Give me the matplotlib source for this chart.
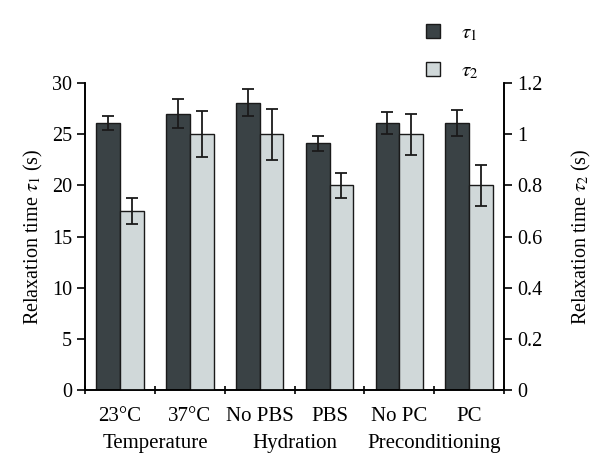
import matplotlib
matplotlib.use("Agg")
import matplotlib.pyplot as plt
import matplotlib.transforms as mtransforms
from matplotlib.patches import Patch
import numpy as np

plt.rcParams['font.family'] = ['Liberation Serif', 'DejaVu Serif']
plt.rcParams['mathtext.fontset'] = 'stix'

categories = ['23°C', '37°C', 'No PBS', 'PBS', 'No PC', 'PC']
groups = ['Temperature', 'Hydration', 'Preconditioning']
tau1 = [26.1, 27.0, 28.1, 24.1, 26.1, 26.1]
tau1_err = [0.7, 1.4, 1.3, 0.7, 1.1, 1.3]
tau2 = [0.70, 1.00, 1.00, 0.80, 1.00, 0.80]
tau2_err = [0.05, 0.09, 0.10, 0.05, 0.08, 0.08]

dark = '#3a4245'
light = '#d0d8d9'

fig = plt.figure(figsize=(6, 4.75), dpi=100)
ax = fig.add_axes([0.142, 0.179, 0.698, 0.646])
ax2 = ax.twinx()

x = np.arange(len(categories))
w = 0.34
ekw = dict(ecolor='#1a1a1a', elinewidth=1.3, capsize=4, capthick=1.3)
ax.bar(x - w / 2, tau1, w, color=dark, edgecolor='#1a1a1a', linewidth=1.0,
       yerr=tau1_err, error_kw=ekw)
ax2.bar(x + w / 2, tau2, w, color=light, edgecolor='#1a1a1a', linewidth=1.0,
        yerr=tau2_err, error_kw=ekw)

ax.set_xlim(-0.5, len(categories) - 0.5)
ax.set_ylim(0, 30)
ax2.set_ylim(0, 1.2)
ax.set_yticks(np.arange(0, 31, 5))
ax2.set_yticks([0, 0.2, 0.4, 0.6, 0.8, 1.0, 1.2])
ax2.set_yticklabels(['0', '0.2', '0.4', '0.6', '0.8', '1', '1.2'])

# boundaries as major ticks, names as minor ticks
ax.set_xticks(np.arange(-0.5, len(categories), 1.0))
ax.set_xticklabels([])
ax.set_xticks(x, minor=True)
ax.set_xticklabels(categories, minor=True)
ax.tick_params(axis='x', which='minor', length=0, pad=12, labelsize=15)
ax.tick_params(axis='x', which='major', length=6, width=1.2, direction='inout')

for a in (ax, ax2):
    a.spines['top'].set_visible(False)
    for s in a.spines.values():
        s.set_linewidth(1.2)
    a.tick_params(axis='y', length=6, width=1.2, labelsize=14.5)

ax.set_ylabel(r'Relaxation time $\tau_1$ (s)', fontsize=14.5, labelpad=5)
ax2.set_ylabel(r'Relaxation time $\tau_2$ (s)', fontsize=14.5, rotation=90, labelpad=20)

trans = mtransforms.blended_transform_factory(ax.transData, ax.transAxes)
for i, g in enumerate(groups):
    ax.text(2 * i + 0.5, -0.175, g, transform=trans, ha='center', va='center', fontsize=15)

handles = [Patch(facecolor=dark, edgecolor='#1a1a1a', label=r'$\tau_1$'),
           Patch(facecolor=light, edgecolor='#1a1a1a', label=r'$\tau_2$')]
fig.legend(handles=handles, loc='upper left', bbox_to_anchor=(0.678, 0.99),
           frameon=False, fontsize=15, handlelength=0.7, handleheight=0.7,
           labelspacing=0.9, handletextpad=1.0)

fig.savefig('out.png', dpi=100)
